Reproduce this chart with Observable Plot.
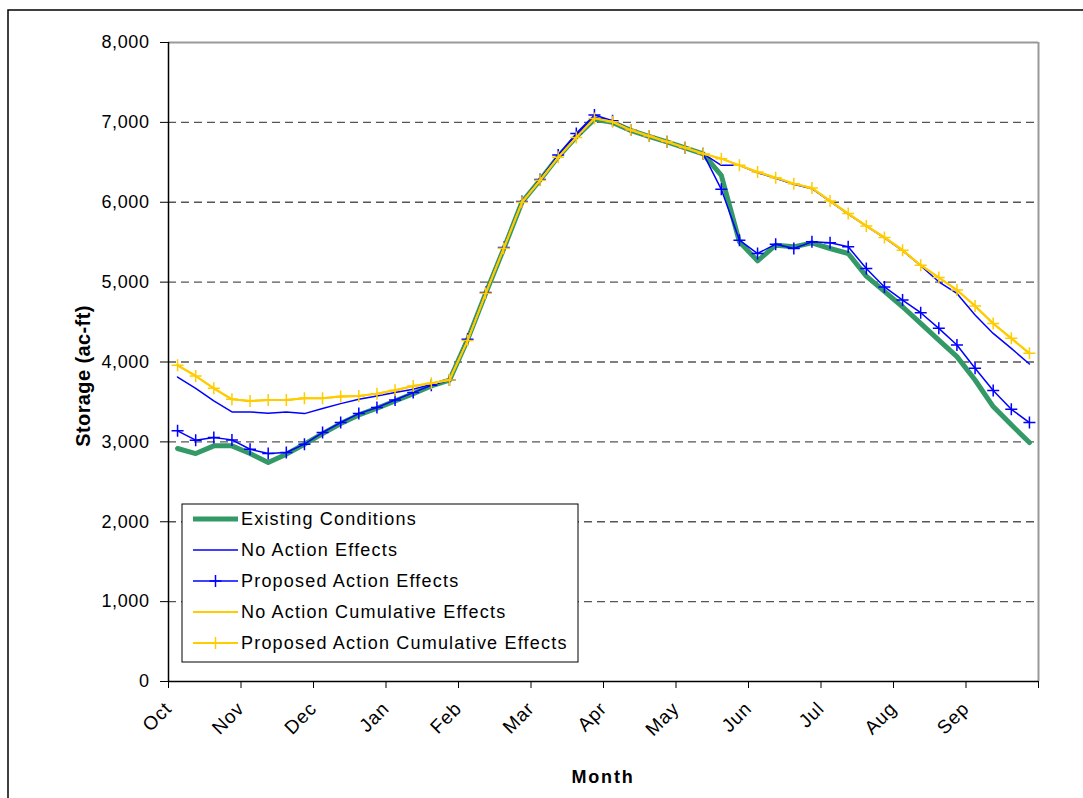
<!DOCTYPE html>
<html><head><meta charset="utf-8">
<script src="https://cdn.jsdelivr.net/npm/d3@7"></script>
<script src="https://cdn.jsdelivr.net/npm/@observablehq/plot@0.6"></script>
<style>
body{margin:0;background:#fff;}
#chart{position:relative;width:1083px;height:798px;overflow:hidden;}
</style></head><body><div id="chart"></div>
<script>
const months = ["Oct","Nov","Dec","Jan","Feb","Mar","Apr","May","Jun","Jul","Aug","Sep"];
const yTicks = [0,1000,2000,3000,4000,5000,6000,7000,8000];
const gridValues = [1000,2000,3000,4000,5000,6000,7000];

const existing = [
2917, 2854, 2950, 2950, 2854, 2742, 2846, 2971, 3104, 3229, 3337, 3421, 3512, 3604, 3700, 3772,
4280, 4860, 5420, 6000, 6279, 6570, 6820, 7040,
7000, 6900, 6825, 6755, 6680, 6605,
6337, 5504, 5267, 5462, 5442, 5492, 5421, 5358, 5075, 4885, 4692, 4483, 4275, 4067, 3775, 3442, 3213, 2992];
const noAction = [
3812, 3670, 3512, 3375, 3375, 3358, 3375, 3354, 3417, 3479, 3533, 3575, 3617, 3658, 3720, 3775,
4285, 4870, 5433, 6008, 6282, 6580, 6840, 7060,
7015, 6905, 6830, 6758, 6683, 6608,
6462, 6462, 6370, 6300, 6225, 6170, 6010, 5850, 5700, 5555, 5395, 5205, 5004, 4858, 4588, 4358, 4171, 3975];
const proposed = [
3138, 3021, 3054, 3025, 2908, 2854, 2867, 2971, 3117, 3242, 3354, 3429, 3525, 3617, 3708, 3775,
4285, 4870, 5433, 6008, 6285, 6592, 6862, 7092,
7020, 6905, 6830, 6758, 6683, 6608,
6162, 5525, 5358, 5475, 5421, 5504, 5492, 5442, 5171, 4940, 4775, 4617, 4421, 4213, 3921, 3642, 3408, 3242];
const noActionCum = [
3958, 3825, 3670, 3533, 3512, 3525, 3525, 3546, 3546, 3567, 3575, 3604, 3646, 3700, 3733, 3775,
4270, 4860, 5425, 6000, 6275, 6562, 6812, 7050,
7008, 6904, 6829, 6758, 6683, 6608,
6546, 6462, 6379, 6308, 6233, 6179, 6017, 5858, 5704, 5560, 5400, 5212, 5058, 4900, 4700, 4483, 4296, 4108];
const proposedCum = [
3958, 3825, 3670, 3533, 3512, 3525, 3525, 3546, 3546, 3567, 3575, 3604, 3646, 3700, 3733, 3775,
4270, 4860, 5425, 6000, 6275, 6562, 6812, 7050,
7008, 6904, 6829, 6758, 6683, 6608,
6546, 6462, 6379, 6308, 6233, 6179, 6017, 5858, 5704, 5560, 5400, 5212, 5058, 4900, 4700, 4483, 4296, 4108];

const seriesNames = ["Existing Conditions","No Action Effects","Proposed Action Effects","No Action Cumulative Effects","Proposed Action Cumulative Effects"];
const GREEN = "#339966", BLUE = "#0000FF", YELLOW = "#FFCC00";

const toRows = (vals) => vals.map((v, i) => ({x: i + 0.5, y: v}));

const plus = {draw(ctx, size){ const r = Math.sqrt(size / Math.PI); ctx.moveTo(-r,0); ctx.lineTo(r,0); ctx.moveTo(0,-r); ctx.lineTo(0,r); }};

const FONT = '"Liberation Sans", Arial, sans-serif';

const chart = Plot.plot({
  width: 1083, height: 798,
  marginLeft: 168, marginRight: 45, marginTop: 42, marginBottom: 117,
  style: {fontFamily: FONT, fontSize: "18px", color: "#000", background: "#fff", overflow: "visible"},
  x: {domain: [0, 48], ticks: d3.range(0, 49, 4), tickFormat: d => (d < 48 ? months[d / 4] : ""), tickRotate: -45, tickSize: 7, tickPadding: 17, label: null},
  y: {domain: [0, 8000], ticks: yTicks, tickFormat: d3.format(","), tickSize: 8, tickPadding: 11, label: null},
  marks: [
    Plot.ruleY(gridValues, {stroke: "#555", strokeDasharray: "8,5", strokeWidth: 1.3}),
    Plot.ruleY([8000], {stroke: "#999", strokeWidth: 2}),
    Plot.ruleX([48], {stroke: "#999", strokeWidth: 2}),
    Plot.lineY(toRows(existing), {x: "x", y: "y", stroke: GREEN, strokeWidth: 5}),
    Plot.lineY(toRows(noAction), {x: "x", y: "y", stroke: BLUE, strokeWidth: 1.5}),
    Plot.lineY(toRows(proposed), {x: "x", y: "y", stroke: BLUE, strokeWidth: 1.5}),
    Plot.dot(toRows(proposed), {x: "x", y: "y", stroke: BLUE, fill: "none", symbol: plus, r: 6, strokeWidth: 1.5}),
    Plot.lineY(toRows(noActionCum), {x: "x", y: "y", stroke: YELLOW, strokeWidth: 2}),
    Plot.lineY(toRows(proposedCum), {x: "x", y: "y", stroke: YELLOW, strokeWidth: 2}),
    Plot.dot(toRows(proposedCum), {x: "x", y: "y", stroke: YELLOW, fill: "none", symbol: plus, r: 6, strokeWidth: 1.5}),
    Plot.ruleX([0], {stroke: "#000", strokeWidth: 1.5}),
    Plot.ruleY([0], {stroke: "#000", strokeWidth: 1.5})
  ]
});

document.getElementById("chart").appendChild(chart);
const svg = d3.select(chart);
svg.selectAll("text").style("letter-spacing", "0.6px");
svg.selectAll('g[aria-label="x-axis tick label"] text').style("font-size", "19px").style("letter-spacing", "0.8px");

// axis titles
svg.append("text").attr("transform", "translate(83,376) rotate(-90)").attr("text-anchor", "middle").attr("dy", "0.35em")
  .attr("font-family", FONT).attr("font-weight", "bold").attr("font-size", 20).style("letter-spacing", "0.4px").text("Storage (ac-ft)");
svg.append("text").attr("x", 603).attr("y", 783).attr("text-anchor", "middle")
  .attr("font-family", FONT).attr("font-weight", "bold").attr("font-size", 18).style("letter-spacing", "1.8px").text("Month");

// outer border
svg.append("path").attr("d", "M8,798V10H1083").attr("fill", "none").attr("stroke", "#000").attr("stroke-width", 1.5);

// legend
const lg = svg.append("g").attr("font-family", FONT).attr("font-size", 18).attr("text-anchor", "start");
lg.append("rect").attr("x", 182).attr("y", 504).attr("width", 396).attr("height", 158)
  .attr("fill", "#fff").attr("stroke", "#000").attr("stroke-width", 1);
const styles = [
  {stroke: GREEN, w: 5, mark: false},
  {stroke: BLUE, w: 1.5, mark: false},
  {stroke: BLUE, w: 1.5, mark: true},
  {stroke: YELLOW, w: 2, mark: false},
  {stroke: YELLOW, w: 2, mark: true}
];
seriesNames.forEach((name, k) => {
  const y = 519 + k * 31;
  const s = styles[k];
  lg.append("line").attr("x1", 193).attr("x2", 238).attr("y1", y).attr("y2", y).attr("stroke", s.stroke).attr("stroke-width", s.w);
  if (s.mark) {
    lg.append("path").attr("d", `M${215.5-6},${y}H${215.5+6}M215.5,${y-6}V${y+6}`).attr("stroke", s.stroke).attr("stroke-width", 1.5);
  }
  lg.append("text").attr("x", 241).attr("y", y).attr("dy", "0.35em").attr("text-anchor", "start").style("letter-spacing", "1.2px").text(name);
});
</script></body></html>
